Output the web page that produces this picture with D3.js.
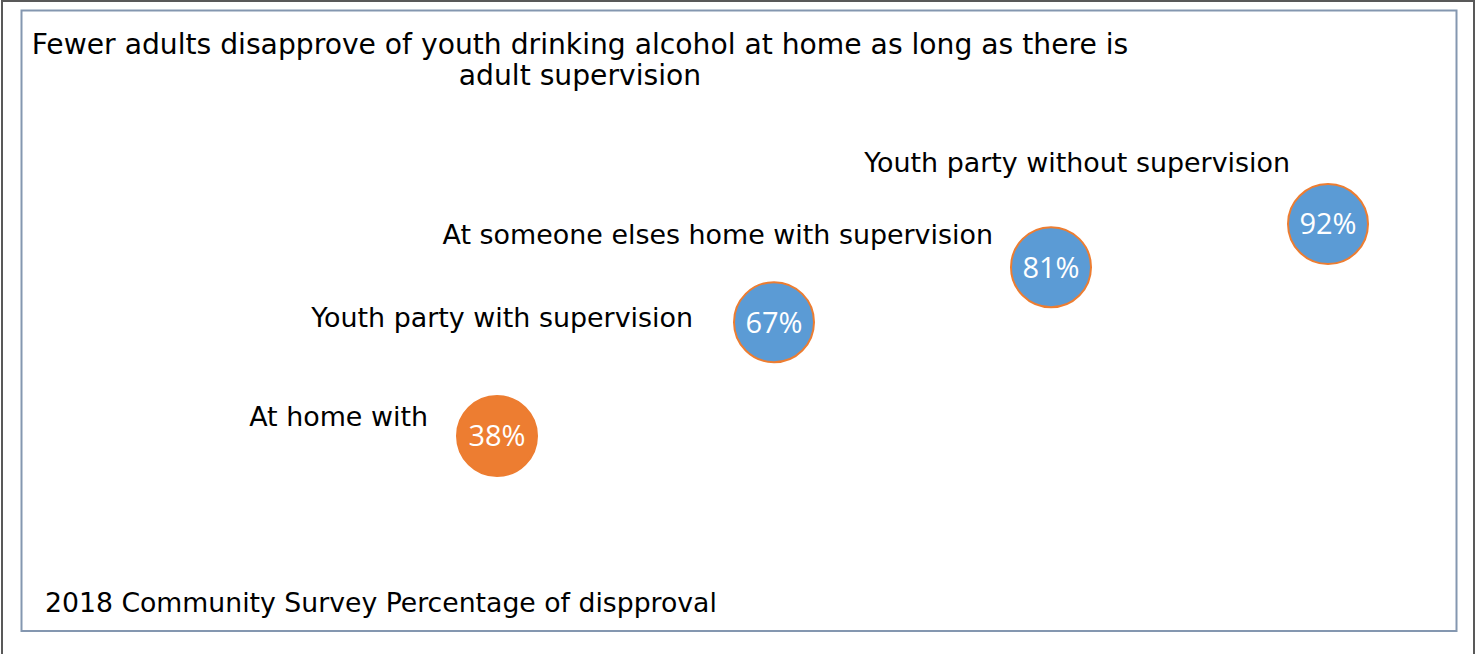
<!DOCTYPE html>
<html lang="en">
<head>
<meta charset="UTF-8">
<title>Disapproval of youth drinking</title>
<script src="https://d3js.org/d3.v7.min.js"></script>
<style>
  body { margin: 0; background: #fff; }
  svg text { font-family: "DejaVu Sans", Verdana, sans-serif; }
</style>
</head>
<body>
<div id="chart"></div>
<script>
// data
const categories = ["At home with", "Youth party with supervision",
  "At someone elses home with supervision", "Youth party without supervision"];
const values = [38, 67, 81, 92];
const valueLabels = ["38%", "67%", "81%", "92%"];
const bubbleColors = ["#ED7D31", "#5B9BD5", "#5B9BD5", "#5B9BD5"];
const titleLines = ["Fewer adults disapprove of youth drinking alcohol at home as long as there is",
  "adult supervision"];
const footer = "2018 Community Survey Percentage of dispproval";

// where each category label sits relative to its bubble
const labelOffsets = [[-69, -10], [-81, 5], [-58, -23], [-38, -52]];

const W = 1476, H = 654;
const svg = d3.select("#chart").append("svg")
    .attr("width", W).attr("height", H);

// outer and inner frames
svg.append("rect").attr("x", 2).attr("y", 1).attr("width", 1472).attr("height", H + 10)
    .attr("fill", "none").attr("stroke", "#595959").attr("stroke-width", 2);
svg.append("rect").attr("x", 21.5).attr("y", 10.5).attr("width", 1435).attr("height", 620.5)
    .attr("fill", "none").attr("stroke", "#8497B0").attr("stroke-width", 2);

const x = d3.scaleLinear().domain([1, 4]).range([497, 1328]);
const y = d3.scaleLinear().domain([0, 100]).range([585.2, 192.6]);

// title
svg.append("g").selectAll("text").data(titleLines).join("text")
    .attr("x", 580).attr("y", (d, i) => 54 + i * 31)
    .attr("text-anchor", "middle")
    .attr("font-size", 28.2).attr("fill", "#000")
    .text(d => d);

const pts = values.map((v, i) => ({v, i}));

// bubbles
svg.append("g").selectAll("circle").data(pts).join("circle")
    .attr("cx", d => x(d.i + 1)).attr("cy", d => y(d.v))
    .attr("r", 40)
    .attr("fill", d => bubbleColors[d.i])
    .attr("stroke", "#ED7D31").attr("stroke-width", 2);

svg.append("g").selectAll("text").data(pts).join("text")
    .attr("x", d => x(d.i + 1)).attr("y", d => y(d.v))
    .attr("dy", "0.36em")
    .attr("text-anchor", "middle")
    .style("font-family", "'Open Sans', sans-serif")
    .attr("font-size", 29).attr("fill", "#fff")
    .text(d => valueLabels[d.i]);

// category labels
svg.append("g").selectAll("text").data(pts).join("text")
    .attr("x", d => x(d.i + 1) + labelOffsets[d.i][0])
    .attr("y", d => y(d.v) + labelOffsets[d.i][1])
    .attr("text-anchor", "end")
    .attr("font-size", 26.9).attr("fill", "#000")
    .text(d => categories[d.i]);

// footer
svg.append("text").attr("x", 45).attr("y", 612)
    .attr("font-size", 26.7).attr("fill", "#000")
    .text(footer);
</script>
</body>
</html>
